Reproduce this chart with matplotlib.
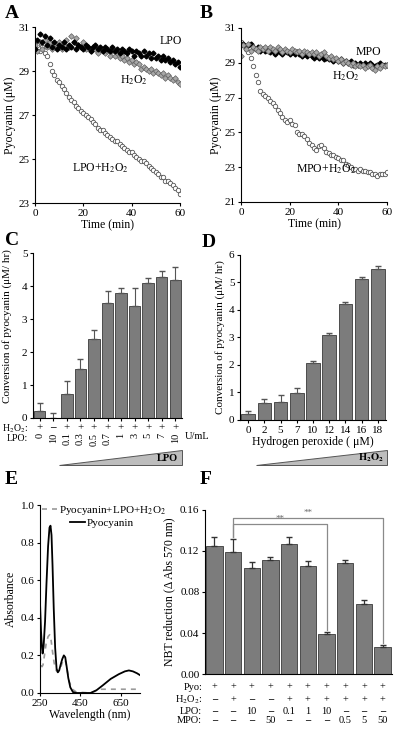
import matplotlib
matplotlib.use("Agg")
import matplotlib.pyplot as plt
from matplotlib.patches import Polygon
import numpy as np

plt.rcParams['font.family'] = ['Liberation Serif', 'DejaVu Serif']
plt.rcParams['mathtext.fontset'] = 'stix'
plt.rcParams['font.size'] = 8
plt.rcParams['axes.linewidth'] = 0.8

H2O2 = 'H$_2$O$_2$'

# ------------------ Datos ------------------
# Panel A / B: tiempo (min)
t = np.arange(0, 61)

a_lpo = [30.0, 30.4, 30.7, 30.3, 30.6, 30.2, 30.5, 30.1, 30.3, 30.0, 30.2, 30.1, 30.3, 30.0, 30.2, 30.1,
         30.3, 30.0, 30.2, 30.1, 30.0, 30.2, 30.1, 29.9, 30.1, 30.2, 30.0, 30.1, 29.9, 30.1, 30.0, 29.9,
         30.1, 29.9, 30.0, 29.8, 30.0, 29.9, 29.8, 30.0, 29.9, 29.7, 29.9, 29.8, 29.7, 29.9, 29.7, 29.8,
         29.6, 29.8, 29.6, 29.7, 29.5, 29.7, 29.5, 29.6, 29.4, 29.5, 29.3, 29.4, 29.2]
a_h2o2 = [30.2, 29.9, 30.3, 30.0, 30.4, 30.1, 30.3, 30.0, 30.2, 30.1, 30.3, 30.0, 30.2, 30.4, 30.1, 30.6,
          30.3, 30.5, 30.2, 30.1, 30.3, 30.0, 30.1, 29.9, 30.1, 30.0, 29.8, 30.0, 29.9, 29.8, 29.9, 29.7,
          29.9, 29.7, 29.8, 29.6, 29.7, 29.5, 29.6, 29.4, 29.5, 29.3, 29.4, 29.3, 29.1, 29.2, 29.1, 29.0,
          29.1, 28.9, 29.0, 28.9, 28.8, 28.9, 28.7, 28.8, 28.7, 28.6, 28.7, 28.5, 28.4]
a_lpo_h2o2 = [30.0, 30.2, 29.9, 30.1, 29.8, 29.7, 29.3, 29.0, 28.8, 28.6, 28.5, 28.3, 28.2, 28.0, 27.8, 27.7,
              27.6, 27.4, 27.3, 27.2, 27.1, 27.0, 26.9, 26.8, 26.7, 26.6, 26.4, 26.3, 26.3, 26.2, 26.1, 26.0,
              25.9, 25.8, 25.8, 25.7, 25.6, 25.5, 25.4, 25.3, 25.3, 25.2, 25.1, 25.0, 24.9, 24.9, 24.8, 24.7,
              24.6, 24.5, 24.4, 24.3, 24.2, 24.2, 24.0, 24.0, 23.9, 23.8, 23.7, 23.6, 23.4]

b_mpo = [30.0, 30.1, 29.9, 30.0, 30.1, 29.9, 29.8, 29.9, 29.7, 29.8, 29.7, 29.8, 29.6, 29.7, 29.5, 29.7,
         29.6, 29.5, 29.7, 29.6, 29.5, 29.6, 29.5, 29.6, 29.5, 29.4, 29.5, 29.4, 29.5, 29.4, 29.3, 29.4,
         29.3, 29.4, 29.2, 29.3, 29.2, 29.3, 29.1, 29.2, 29.1, 29.2, 29.0, 29.1, 29.0, 29.1, 28.9, 29.0,
         28.9, 29.0, 28.9, 29.0, 28.9, 29.0, 28.9, 28.8, 28.9, 29.0, 28.9, 28.9, 28.9]
b_h2o2 = [29.4, 30.0, 29.8, 30.1, 29.7, 29.9, 29.8, 29.7, 29.9, 29.8, 29.9, 29.7, 29.9, 29.8, 29.7, 29.9,
          29.8, 29.6, 29.8, 29.7, 29.6, 29.8, 29.7, 29.6, 29.7, 29.5, 29.7, 29.6, 29.5, 29.6, 29.5, 29.6,
          29.4, 29.5, 29.6, 29.4, 29.3, 29.4, 29.2, 29.3, 29.1, 29.2, 29.0, 29.1, 29.0, 28.9, 29.0, 28.8,
          28.9, 28.8, 28.9, 28.7, 28.8, 28.9, 28.7, 28.6, 28.8, 28.7, 28.9, 28.8, 28.9]
b_mpo_h2o2 = [30.2, 30.0, 29.8, 29.6, 29.3, 28.8, 28.3, 27.9, 27.4, 27.2, 27.1, 27.0, 26.8, 26.7, 26.5, 26.3,
              26.1, 25.9, 25.7, 25.6, 25.7, 25.5, 25.4, 25.0, 24.9, 24.9, 24.8, 24.6, 24.4, 24.3, 24.1, 24.0,
              24.2, 24.3, 24.1, 23.9, 23.8, 23.7, 23.7, 23.6, 23.5, 23.4, 23.4, 23.2, 23.1, 23.0, 22.9, 22.9,
              22.8, 22.9, 22.8, 22.8, 22.7, 22.7, 22.6, 22.6, 22.5, 22.6, 22.6, 22.6, 22.7]

# Panel C
c_h2o2 = ['+', '-', '+', '+', '+', '+', '+', '+', '+', '+', '+']
c_lpo = ['0', '10', '0.1', '0.3', '0.5', '0.7', '1', '3', '5', '7', '10']
c_val = [0.2, 0.0, 0.72, 1.48, 2.38, 3.5, 3.78, 3.38, 4.08, 4.27, 4.17]
c_err = [0.25, 0.15, 0.4, 0.3, 0.3, 0.35, 0.17, 0.55, 0.17, 0.2, 0.4]

# Panel D
d_cat = ['0', '2', '5', '7', '10', '12', '14', '16', '18']
d_val = [0.2, 0.6, 0.67, 0.98, 2.07, 3.08, 4.2, 5.12, 5.5]
d_err = [0.12, 0.15, 0.22, 0.18, 0.07, 0.1, 0.1, 0.08, 0.1]

# Panel E: espectros
e_wl_pyo = [250, 255, 260, 263, 268, 275, 282, 290, 297, 302, 307, 312, 318, 325, 332, 338, 345, 352, 360,
            368, 375, 382, 390, 400, 413, 430, 500, 530, 560, 600, 640, 670, 690, 710, 730, 745]
e_pyo = [0.48, 0.33, 0.24, 0.21, 0.25, 0.38, 0.58, 0.78, 0.88, 0.89, 0.84, 0.68, 0.45, 0.24, 0.13, 0.11,
         0.12, 0.15, 0.18, 0.2, 0.19, 0.14, 0.08, 0.03, 0.005, 0.0, 0.0, 0.015, 0.04, 0.075, 0.1, 0.115,
         0.12, 0.115, 0.105, 0.095]
e_wl_mix = [250, 255, 260, 265, 272, 280, 290, 298, 305, 312, 320, 330, 340, 350, 360, 368, 376, 385, 395,
            410, 430, 500, 550, 650, 745]
e_mix = [0.2, 0.16, 0.14, 0.15, 0.2, 0.26, 0.3, 0.31, 0.28, 0.22, 0.16, 0.12, 0.11, 0.13, 0.16, 0.18, 0.17,
         0.12, 0.06, 0.02, 0.005, 0.0, 0.02, 0.02, 0.02]

# Panel F
f_pyo = ['+'] * 10
f_h2o2 = ['-', '+', '-', '-', '+', '+', '+', '+', '+', '+']
f_lpo = ['-', '-', '10', '-', '0.1', '1', '10', '-', '-', '-']
f_mpo = ['-', '-', '-', '50', '-', '-', '-', '0.5', '5', '50']
f_val = [0.125, 0.119, 0.103, 0.111, 0.127, 0.105, 0.039, 0.108, 0.068, 0.026]
f_err = [0.009, 0.013, 0.006, 0.003, 0.007, 0.005, 0.002, 0.003, 0.004, 0.002]
f_sig = [(1, 6, 0.146), (1, 9, 0.152)]

BAR = '#7c7c7c'
EDGE = '#3a3a3a'

fig = plt.figure(figsize=(4, 7.3), dpi=100)


def estilo(ax):
    ax.spines['top'].set_visible(False)
    ax.spines['right'].set_visible(False)
    ax.tick_params(direction='out', length=2.5, width=0.8, labelsize=8, pad=1.5)


def simbolo(ax, x, y, s, tr, size):
    # "+" normal, "-" como guion grueso (como en la figura)
    if s == '-':
        ax.text(x, y, '–', transform=tr, ha='center', va='center', fontsize=size, fontweight='bold')
    else:
        ax.text(x, y, s, transform=tr, ha='center', va='center', fontsize=size)


# ------------------ A ------------------
axA = fig.add_axes([0.0875, 0.7219, 0.3625, 0.2411])
axA.plot(t, a_lpo_h2o2, 'o', ms=3.2, mfc='white', mec='#555555', mew=0.6)
axA.plot(t, a_h2o2, 'D', ms=2.9, mfc='#a8a8a8', mec='#606060', mew=0.5)
axA.plot(t, a_lpo, 'D', ms=2.5, color='black')
axA.set_xlim(0, 60)
axA.set_ylim(23, 31)
axA.set_xticks([0, 20, 40, 60])
axA.set_yticks([23, 25, 27, 29, 31])
axA.set_xlabel('Time (min)', labelpad=1, fontsize=8.5)
axA.set_ylabel('Pyocyanin (μM)', labelpad=2, fontsize=8.5)
axA.text(56, 30.35, 'LPO', ha='center', va='center', fontsize=8.5)
axA.text(41, 28.6, H2O2, ha='center', va='center', fontsize=8.5)
axA.text(27, 24.6, 'LPO+' + H2O2, ha='center', va='center', fontsize=8.5)
estilo(axA)

# ------------------ B ------------------
axB = fig.add_axes([0.6025, 0.7233, 0.365, 0.2384])
axB.plot(t, b_mpo_h2o2, 'o', ms=3.2, mfc='white', mec='#555555', mew=0.6)
axB.plot(t, b_mpo, 'D', ms=2.5, color='black')
axB.plot(t, b_h2o2, 'D', ms=2.9, mfc='#a8a8a8', mec='#606060', mew=0.5)
axB.set_xlim(0, 60)
axB.set_ylim(21, 31)
axB.set_xticks([0, 20, 40, 60])
axB.set_yticks([21, 23, 25, 27, 29, 31])
axB.set_xlabel('Time (min)', labelpad=1, fontsize=8.5)
axB.set_ylabel('Pyocyanin (μM)', labelpad=2, fontsize=8.5)
axB.text(52.5, 29.6, 'MPO', ha='center', va='center', fontsize=8.5)
axB.text(43, 28.2, H2O2, ha='center', va='center', fontsize=8.5)
axB.text(35, 22.9, 'MPO+' + H2O2, ha='center', va='center', fontsize=8.5)
estilo(axB)

# ------------------ C ------------------
axC = fig.add_axes([0.0825, 0.4274, 0.3725, 0.226])
xc = np.arange(len(c_val))
axC.bar(xc, c_val, width=0.84, color=BAR, edgecolor=EDGE, linewidth=0.6)
axC.errorbar(xc, c_val, yerr=[np.zeros(len(c_err)), c_err], fmt='none', ecolor='#555555',
             elinewidth=0.8, capsize=2)
axC.set_xlim(-0.5, len(c_val) - 0.5)
axC.set_ylim(0, 5)
axC.set_yticks(range(0, 6))
axC.set_xticks(xc)
axC.set_xticklabels([])
axC.set_ylabel('Conversion of pyocyanin (μM/ hr)', labelpad=3, fontsize=8)
axC.yaxis.set_label_coords(-0.14, 0.56)
estilo(axC)
axC.tick_params(axis='x', length=2)
trC = axC.get_xaxis_transform()
axC.text(-0.035, -0.063, H2O2 + ':', transform=axC.transAxes, ha='right', va='center', fontsize=7)
axC.text(-0.035, -0.123, 'LPO:', transform=axC.transAxes, ha='right', va='center', fontsize=7)
for i in range(len(c_val)):
    simbolo(axC, i, -0.058, c_h2o2[i], trC, 8)
    axC.text(i, -0.088, c_lpo[i], transform=trC, ha='center', va='top', fontsize=7.5, rotation=90)
axC.text(1.02, -0.115, 'U/mL', transform=axC.transAxes, ha='left', va='center', fontsize=7.5)

# ------------------ D ------------------
axD = fig.add_axes([0.6, 0.4247, 0.365, 0.226])
xd = np.arange(len(d_val))
axD.bar(xd, d_val, width=0.84, color=BAR, edgecolor=EDGE, linewidth=0.6)
axD.errorbar(xd, d_val, yerr=[np.zeros(len(d_err)), d_err], fmt='none', ecolor='#555555',
             elinewidth=0.8, capsize=2)
axD.set_xlim(-0.5, len(d_val) - 0.5)
axD.set_ylim(0, 6)
axD.set_yticks(range(0, 7))
axD.set_xticks(xd)
axD.set_xticklabels(d_cat)
axD.set_xlabel('Hydrogen peroxide ( μM)', labelpad=1, fontsize=8.5)
axD.set_ylabel('Conversion of pyocyanin (μM/ hr)', labelpad=3, fontsize=8)
estilo(axD)

# cuñas de concentración
fig.add_artist(Polygon([(0.1475, 0.363), (0.455, 0.363), (0.455, 0.3836)], closed=True,
                       transform=fig.transFigure, facecolor='#bdbdbd', edgecolor='#555555', linewidth=0.7))
fig.text(0.445, 0.3725, 'LPO', ha='right', va='center', fontsize=7.5, fontweight='bold')
fig.add_artist(Polygon([(0.64, 0.363), (0.9675, 0.363), (0.9675, 0.3836)], closed=True,
                       transform=fig.transFigure, facecolor='#bdbdbd', edgecolor='#555555', linewidth=0.7))
fig.text(0.96, 0.3725, r'$\mathbf{H_2O_2}$', ha='right', va='center', fontsize=7.5)

# ------------------ E ------------------
axE = fig.add_axes([0.1, 0.0507, 0.25, 0.2575])
l_mix, = axE.plot(e_wl_mix, e_mix, ls=(0, (3, 3)), color='#9a9a9a', lw=1.2)
l_pyo, = axE.plot(e_wl_pyo, e_pyo, color='black', lw=1.3)
axE.set_xlim(250, 745)
axE.set_ylim(0, 1.0)
axE.set_xticks([250, 450, 650])
axE.set_yticks([0.0, 0.2, 0.4, 0.6, 0.8, 1.0])
axE.set_yticklabels(['0.0', '0.2', '0.4', '0.6', '0.8', '1.0'])
axE.set_xlabel('Wavelength (nm)', labelpad=1, fontsize=8.5)
axE.set_ylabel('Absorbance', labelpad=3, fontsize=8.5)
estilo(axE)
leg1 = axE.legend([l_mix], ['Pyocyanin+LPO+' + H2O2], loc='upper left', bbox_to_anchor=(-0.02, 1.03),
                  frameon=False, fontsize=8, handlelength=1.3, handletextpad=0.2, borderaxespad=0)
axE.add_artist(leg1)
axE.legend([l_pyo], ['Pyocyanin'], loc='upper left', bbox_to_anchor=(0.26, 0.955),
           frameon=False, fontsize=8, handlelength=1.3, handletextpad=0.2, borderaxespad=0)

# ------------------ F ------------------
axF = fig.add_axes([0.5125, 0.0767, 0.4675, 0.2247])
xf = np.arange(len(f_val))
axF.bar(xf, f_val, width=0.88, color=BAR, edgecolor=EDGE, linewidth=0.6)
axF.errorbar(xf, f_val, yerr=[np.zeros(len(f_err)), f_err], fmt='none', ecolor='#333333',
             elinewidth=0.9, capsize=2.2)
axF.set_xlim(-0.5, len(f_val) - 0.5)
axF.set_ylim(0, 0.16)
axF.set_yticks([0.0, 0.04, 0.08, 0.12, 0.16])
axF.set_yticklabels(['0.00', '0.04', '0.08', '0.12', '0.16'])
axF.set_xticks([])
axF.set_ylabel('NBT reduction (Δ Abs 570 nm)', labelpad=3, fontsize=8.5)
estilo(axF)
for (i0, i1, h) in f_sig:
    y0 = f_val[i0] + f_err[i0] + 0.002
    y1 = f_val[i1] + f_err[i1] + 0.002
    axF.plot([i0, i0, i1, i1], [y0, h, h, y1], color='#8a8a8a', lw=0.9, clip_on=False)
    axF.text((i0 + i1) / 2, h + 0.001, '**', ha='center', va='bottom', fontsize=6.5, color='#666666')
trF = axF.get_xaxis_transform()
filas = [('Pyo:', f_pyo, -0.08), (H2O2 + ':', f_h2o2, -0.158), ('LPO:', f_lpo, -0.23), ('MPO:', f_mpo, -0.285)]
for etiqueta, valores, yy in filas:
    axF.text(-0.015, yy, etiqueta, transform=axF.transAxes, ha='right', va='center', fontsize=7.5)
    for i, v in enumerate(valores):
        simbolo(axF, i, yy, v, trF, 7.5)

# letras de panel
for letra, x, y in [('A', 0.012, 0.982), ('B', 0.5, 0.982), ('C', 0.012, 0.671),
                    ('D', 0.505, 0.668), ('E', 0.012, 0.343), ('F', 0.5, 0.343)]:
    fig.text(x, y, letra, ha='left', va='center', fontsize=14, fontweight='bold')

fig.savefig('out.png', dpi=100)
